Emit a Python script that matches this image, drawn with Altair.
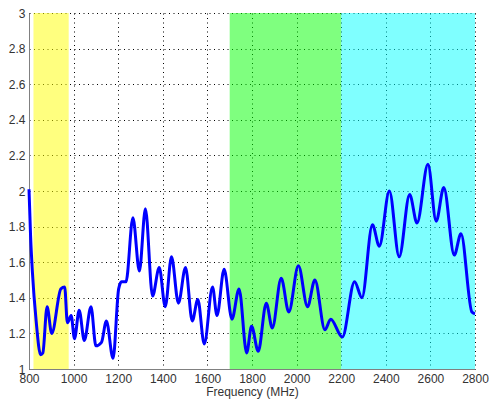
import altair as alt
import pandas as pd

freq = [800, 807, 815, 832, 852, 862, 881, 902, 943, 960, 972, 989, 1004, 1025, 1048,
        1078, 1100, 1125, 1147, 1177, 1202, 1215, 1235, 1266, 1295, 1322, 1354, 1384,
        1411, 1439, 1470, 1502, 1532, 1557, 1586, 1623, 1643, 1675, 1710, 1742, 1776,
        1798, 1828, 1864, 1891, 1931, 1965, 2008, 2049, 2082, 2127, 2153, 2205, 2260,
        2293, 2340, 2371, 2416, 2460, 2507, 2540, 2589, 2626, 2660, 2707, 2737, 2786, 2800]
vswr = [2.01, 1.75, 1.55, 1.27, 1.08, 1.09, 1.35, 1.20, 1.45, 1.46, 1.26, 1.30, 1.17, 1.33, 1.16,
        1.35, 1.13, 1.15, 1.27, 1.06, 1.45, 1.49, 1.49, 1.85, 1.55, 1.90, 1.41, 1.57,
        1.35, 1.63, 1.37, 1.57, 1.27, 1.39, 1.14, 1.46, 1.30, 1.56, 1.28, 1.45, 1.09,
        1.24, 1.10, 1.37, 1.23, 1.51, 1.32, 1.58, 1.35, 1.50, 1.22, 1.28, 1.18, 1.49,
        1.40, 1.81, 1.69, 2.00, 1.63, 1.98, 1.82, 2.15, 1.83, 2.02, 1.64, 1.76, 1.32, 1.31]

band_start = [820, 1700, 2200]
band_end = [978, 2200, 2800]
band_color = ["#FFFF00", "#00FF00", "#00FFFF"]
band_name = ["a", "b", "c"]

x_ticks = [800, 1000, 1200, 1400, 1600, 1800, 2000, 2200, 2400, 2600, 2800]
y_ticks = [1, 1.2, 1.4, 1.6, 1.8, 2, 2.2, 2.4, 2.6, 2.8, 3]

line_df = pd.DataFrame({"f": freq, "v": vswr})
band_df = pd.DataFrame({"s": band_start, "e": band_end, "c": band_color, "n": band_name})

xscale = alt.Scale(domain=[800, 2800], nice=False, zero=False)
yscale = alt.Scale(domain=[1, 3], nice=False, zero=False)

xaxis = alt.Axis(values=x_ticks, title="Frequency (MHz)", grid=True, gridColor="black",
                 gridDash=[1, 3.5], gridWidth=1, domainColor="#808080", domainWidth=1,
                 ticks=False, labelPadding=4, labelFontSize=12, labelColor="#333333",
                 labelFont="Liberation Sans", titleFont="Liberation Sans", titleFontSize=12,
                 titleFontWeight="normal", titleColor="#333333", titlePadding=2,
                 labelFlush=False, labelOverlap=False, format="d")
yaxis = alt.Axis(values=y_ticks, title=None, grid=True, gridColor="black",
                 gridDash=[1, 3.5], gridWidth=1, domainColor="#808080", domainWidth=1,
                 ticks=False, labelPadding=4, labelFontSize=12, labelColor="#333333",
                 labelFont="Liberation Sans", labelFlush=False, labelOverlap=False,
                 format=".2~f")

bands = alt.Chart(band_df).mark_rect(opacity=0.5).encode(
    x=alt.X("s:Q", scale=xscale, axis=xaxis),
    x2="e:Q",
    y=alt.datum(1, scale=yscale, axis=yaxis),
    y2=alt.datum(3),
    color=alt.Color("c:N", scale=None, legend=None),
)

line = alt.Chart(line_df).mark_line(color="#0000FF", strokeWidth=3, interpolate="monotone").encode(
    x=alt.X("f:Q", scale=xscale, axis=xaxis),
    y=alt.Y("v:Q", scale=yscale, axis=yaxis),
)

chart = alt.layer(bands, line).properties(
    width=446, height=356,
    autosize=alt.AutoSizeParams(type="none"),
    padding={"left": 21, "top": 5, "right": 14, "bottom": 31},
).configure_view(stroke=None)

chart.save("out.html", embed_options={"renderer": "svg", "actions": False})
